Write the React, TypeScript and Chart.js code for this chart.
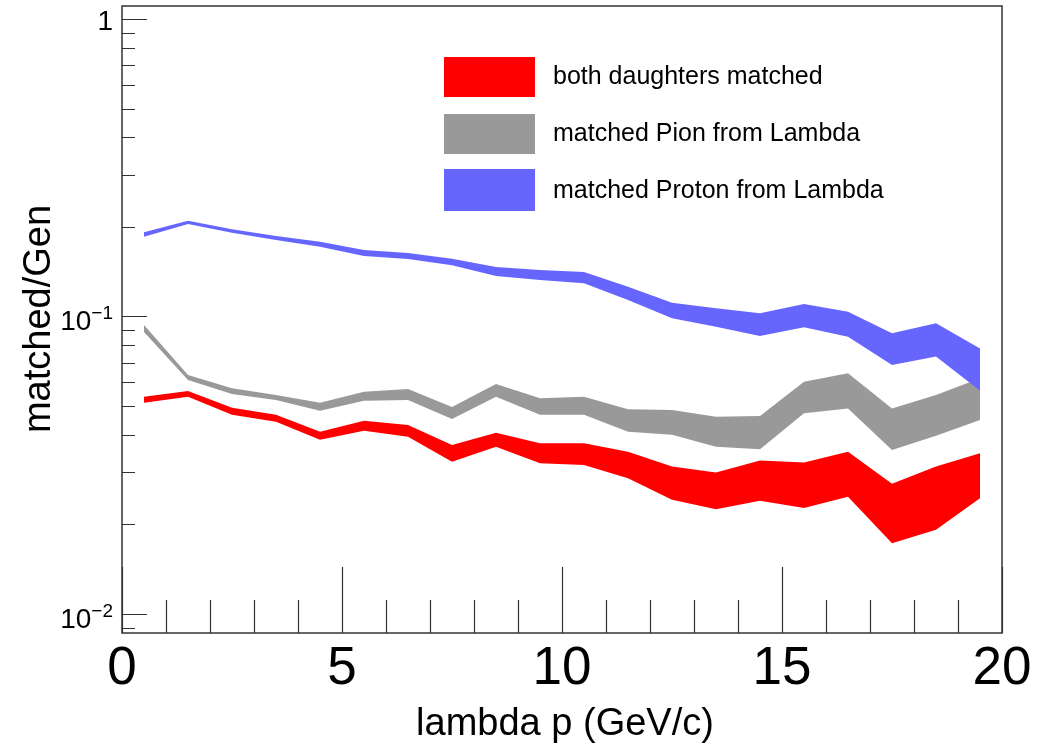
import React, { useEffect, useRef } from "react";
import { Chart, registerables } from "chart.js";

Chart.register(...registerables);

// ---- data ----
const pValues = [0.5, 1.5, 2.5, 3.5, 4.5, 5.5, 6.5, 7.5, 8.5, 9.5, 10.5, 11.5, 12.5, 13.5, 14.5, 15.5, 16.5, 17.5, 18.5, 19.5];

const bothUpper = [0.0537, 0.0562, 0.0493, 0.0467, 0.041, 0.0446, 0.0432, 0.037, 0.0407, 0.0375, 0.0375, 0.0351, 0.0313, 0.0299, 0.0328, 0.0323, 0.0351, 0.0274, 0.0313, 0.0347];
const bothLower = [0.0513, 0.0537, 0.0467, 0.0443, 0.0385, 0.0413, 0.0394, 0.0325, 0.0365, 0.0321, 0.0317, 0.0286, 0.0242, 0.0225, 0.024, 0.0227, 0.0248, 0.0173, 0.0192, 0.0245];

const pionUpper = [0.0936, 0.0636, 0.0574, 0.0545, 0.0513, 0.0559, 0.0571, 0.0496, 0.0593, 0.0531, 0.0537, 0.0488, 0.0485, 0.046, 0.0463, 0.0604, 0.0644, 0.0491, 0.0545, 0.062];
const pionLower = [0.0887, 0.0612, 0.0549, 0.0524, 0.0482, 0.0521, 0.0524, 0.0452, 0.0537, 0.0467, 0.0467, 0.041, 0.04, 0.0365, 0.0358, 0.0473, 0.0491, 0.0356, 0.0397, 0.0449];

const protonUpper = [0.1919, 0.2099, 0.1964, 0.1865, 0.1784, 0.1673, 0.1635, 0.1564, 0.1467, 0.1433, 0.1411, 0.1259, 0.1113, 0.1066, 0.1025, 0.1102, 0.1038, 0.0878, 0.0949, 0.0781];
const protonLower = [0.1855, 0.2046, 0.1913, 0.1808, 0.1716, 0.1597, 0.1561, 0.1486, 0.1368, 0.1327, 0.1293, 0.1136, 0.0986, 0.0924, 0.086, 0.092, 0.0855, 0.0687, 0.0733, 0.0563];

const seriesLabels = ["both daughters matched", "matched Pion from Lambda", "matched Proton from Lambda"];
const seriesColors = ["#ff0000", "#999999", "#6666ff"];

const xMin = 0;
const xMax = 20;
const yMin = 0.00863;
const yMax = 1.106;

const xMajorTicks = [0, 5, 10, 15, 20];
const xMajorLabels = ["0", "5", "10", "15", "20"];
const xMinorTicks = [1, 2, 3, 4, 6, 7, 8, 9, 11, 12, 13, 14, 16, 17, 18, 19];

const yMajorTicks = [1, 0.1, 0.01];
const yMajorBases = ["1", "10", "10"];
const yMajorExps = ["", "\u22121", "\u22122"];
const yMinorTicks = [0.9, 0.8, 0.7, 0.6, 0.5, 0.4, 0.3, 0.2, 0.09, 0.08, 0.07, 0.06, 0.05, 0.04, 0.03, 0.02, 0.009];

const xTitle = "lambda p (GeV/c)";
const yTitle = "matched/Gen";

const FONT = '"Liberation Sans", Arial, Helvetica, sans-serif';

function toPoints(ys: number[]) {
  return pValues.map((x, i) => ({ x, y: ys[i] }));
}

const rootStylePlugin = {
  id: "rootStyle",
  afterDraw(chart: any) {
    const ctx = chart.ctx as CanvasRenderingContext2D;
    const area = chart.chartArea;
    const xs = chart.scales.x;
    const ys = chart.scales.y;
    ctx.save();

    // frame
    ctx.strokeStyle = "#333";
    ctx.lineWidth = 1.5;
    ctx.strokeRect(area.left, area.top, area.right - area.left, area.bottom - area.top);

    // x ticks
    ctx.lineWidth = 1.2;
    ctx.beginPath();
    xMajorTicks.forEach((v) => {
      const px = Math.round(xs.getPixelForValue(v)) + 0.5;
      ctx.moveTo(px, area.bottom);
      ctx.lineTo(px, area.bottom - 66);
    });
    xMinorTicks.forEach((v) => {
      const px = Math.round(xs.getPixelForValue(v)) + 0.5;
      ctx.moveTo(px, area.bottom);
      ctx.lineTo(px, area.bottom - 33);
    });
    // y ticks
    yMajorTicks.forEach((v) => {
      const py = Math.round(ys.getPixelForValue(v)) + 0.5;
      ctx.moveTo(area.left, py);
      ctx.lineTo(area.left + 25, py);
    });
    yMinorTicks.forEach((v) => {
      const py = Math.round(ys.getPixelForValue(v)) + 0.5;
      ctx.moveTo(area.left, py);
      ctx.lineTo(area.left + 13, py);
    });
    ctx.stroke();

    // x labels
    ctx.fillStyle = "#000";
    ctx.textAlign = "center";
    ctx.textBaseline = "alphabetic";
    ctx.font = `53px ${FONT}`;
    xMajorTicks.forEach((v, i) => {
      const px = xs.getPixelForValue(v);
      ctx.fillText(xMajorLabels[i], px, area.bottom + 51);
    });

    // y labels
    const labelRight = area.left - 9;
    ctx.textAlign = "right";
    yMajorTicks.forEach((v, i) => {
      const py = ys.getPixelForValue(v);
      const exp = yMajorExps[i];
      if (!exp) {
        ctx.font = `28px ${FONT}`;
        ctx.fillText(yMajorBases[i], labelRight, py + 11);
      } else {
        ctx.font = `19px ${FONT}`;
        const w = ctx.measureText(exp).width;
        ctx.fillText(exp, labelRight, py + 3);
        ctx.font = `28px ${FONT}`;
        ctx.fillText(yMajorBases[i], labelRight - w, py + 14);
      }
    });

    // axis titles
    ctx.font = `38px ${FONT}`;
    ctx.textAlign = "center";
    ctx.fillText(xTitle, 565, 735);
    ctx.save();
    ctx.translate(50, 319);
    ctx.rotate(-Math.PI / 2);
    ctx.fillText(yTitle, 0, 0);
    ctx.restore();

    // legend
    const boxes = [
      { top: 57, bottom: 97, base: 84 },
      { top: 114, bottom: 154, base: 141 },
      { top: 169, bottom: 211, base: 198 },
    ];
    ctx.textAlign = "left";
    ctx.font = `25px ${FONT}`;
    seriesLabels.forEach((label, i) => {
      const b = boxes[i];
      ctx.fillStyle = seriesColors[i];
      ctx.fillRect(444, b.top, 91, b.bottom - b.top);
      ctx.fillStyle = "#000";
      ctx.fillText(label, 553, b.base);
    });

    ctx.restore();
  },
};

export default function App() {
  const canvasRef = useRef<HTMLCanvasElement | null>(null);

  useEffect(() => {
    document.body.style.margin = "0";
    const canvas = canvasRef.current;
    if (!canvas) return;

    const bands = [
      { upper: protonUpper, lower: protonLower, color: seriesColors[2], label: seriesLabels[2] },
      { upper: pionUpper, lower: pionLower, color: seriesColors[1], label: seriesLabels[1] },
      { upper: bothUpper, lower: bothLower, color: seriesColors[0], label: seriesLabels[0] },
    ];
    const datasets: any[] = [];
    bands.forEach((b) => {
      datasets.push({
        label: b.label,
        data: toPoints(b.upper),
        fill: "+1",
        backgroundColor: b.color,
        borderColor: b.color,
        borderWidth: 0,
        pointRadius: 0,
        tension: 0,
      });
      datasets.push({
        label: b.label + " (low)",
        data: toPoints(b.lower),
        fill: false,
        backgroundColor: b.color,
        borderColor: b.color,
        borderWidth: 0,
        pointRadius: 0,
        tension: 0,
      });
    });

    const chart = new Chart(canvas, {
      type: "line",
      data: { datasets },
      options: {
        responsive: false,
        animation: false,
        devicePixelRatio: 1,
        layout: { padding: { left: 122, top: 6, right: 53, bottom: 117 } },
        scales: {
          x: { type: "linear", min: xMin, max: xMax, bounds: "data", display: false },
          y: { type: "logarithmic", min: yMin, max: yMax, display: false },
        },
        plugins: {
          legend: { display: false },
          tooltip: { enabled: false },
        },
      },
      plugins: [rootStylePlugin],
    } as any);

    return () => {
      chart.destroy();
    };
  }, []);

  return (
    <div style={{ position: "absolute", left: 0, top: 0, width: 1055, height: 750, background: "#fff" }}>
      <canvas ref={canvasRef} width={1055} height={750} style={{ display: "block" }} />
    </div>
  );
}
